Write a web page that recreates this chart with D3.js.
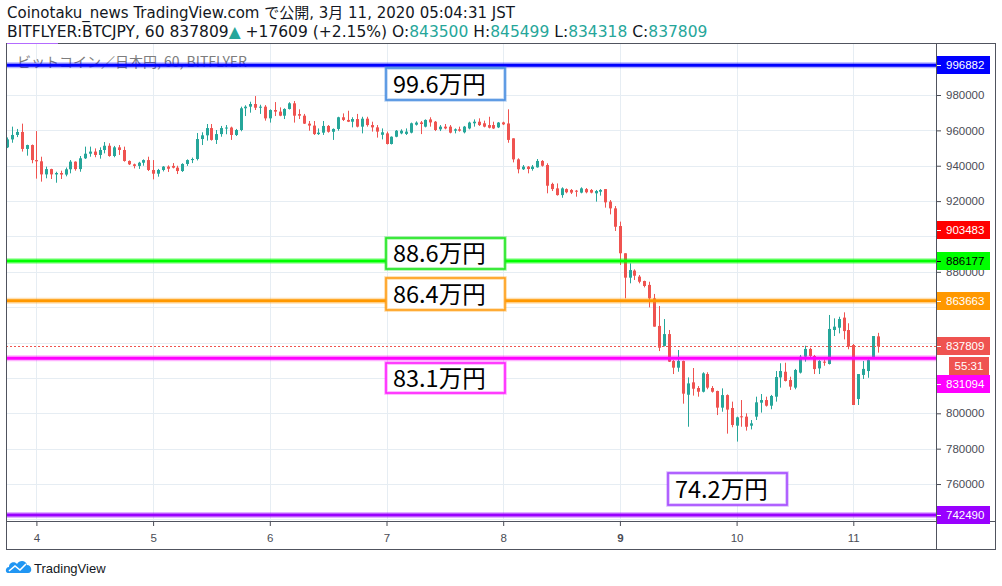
<!DOCTYPE html>
<html>
<head>
<meta charset="utf-8">
<script src="https://cdn.jsdelivr.net/npm/d3@7/dist/d3.min.js"></script>
<style>
  html, body { margin: 0; padding: 0; background: #fff; }
  svg { display: block; }
</style>
</head>
<body>
<div id="chart"></div>
<script>
// BTC/JPY 1時間足 (3/3 18:00 〜 3/11 05:00 JST)
var startTime = new Date(2020, 2, 3, 18, 0);

var opens = [950400,954900,957400,959100,949500,951700,943200,942500,935100,938100,
935100,935900,935000,938000,942300,938100,944200,946800,948000,946100,
948900,951300,945500,950400,948900,942700,940800,939900,941700,943200,
937600,935500,937600,939500,939900,938900,937000,941000,943200,943800,
955100,957200,961300,954600,957900,961300,961600,957400,960200,972500,
973400,974900,972800,973400,966800,971500,970600,968300,972100,975300,
969200,968300,963800,962700,957900,958700,962500,959200,960800,967400,
965900,964900,966400,962100,966600,963000,961700,957500,958300,952300,
956400,958300,958000,958700,963200,964500,962100,966200,964900,960600,
962100,962100,959800,960600,958900,961100,964000,964900,964000,963000,
963000,961700,964500,963900,955500,943600,938000,939500,938150,939100,
942700,940400,929700,927200,923400,926800,926300,925900,924800,926800,
926300,924400,925300,926800,919700,915900,905900,890500,876700,880700,
877300,874800,872600,865000,849400,838100,844800,829600,825800,829600,
810500,817500,814300,812200,822200,814300,812600,803200,810300,803000,
793000,798300,798100,793000,798100,806000,807500,804300,809400,820300,
823500,818800,814500,823000,832000,836400,832400,825400,829200,827900,
847100,848400,854100,847100,838600,808100,821700,823900,831700,843500];

var highs = [956000,962100,960800,963800,951900,952000,959600,945100,939500,938300,
936600,937200,939000,943200,942500,945500,950800,950800,949800,950400,
953400,952700,951200,951700,950800,943000,941200,942200,943600,945100,
943200,938200,939800,940200,941500,940000,941400,943600,944600,958500,
958900,963600,963600,960200,962500,963000,962100,960800,973400,974200,
976200,979400,974500,974300,971900,976000,973000,972500,975900,976600,
971900,969300,965300,965300,961100,965300,963000,961100,967700,969600,
971100,967400,969300,967700,967700,964900,963000,961100,959300,956600,
960200,960600,961100,964400,965100,965300,966200,967400,965300,963000,
963600,963000,961100,962100,962500,964900,966200,966800,965500,967700,
964900,964700,964900,971900,955500,944200,940400,939850,940400,943800,
943200,941400,930400,930000,927800,927200,926800,926300,927800,927400,
926800,926300,926800,926800,920600,917200,908400,890500,884800,881400,
878200,875000,874400,867500,860700,853300,847100,830100,835800,829800,
820300,825600,815400,823200,823200,815400,812800,814100,810700,806600,
798100,807500,800000,796200,809400,810900,809400,810400,823900,828300,
828600,820700,825100,833000,838200,837100,833000,830100,830500,855600,
853700,854600,857100,850900,839200,822200,829600,830500,843700,845499];

var lows = [950000,953000,956200,948000,945700,941400,932700,931000,932900,932500,
930400,932500,934000,935700,937200,936600,943800,945100,944800,944000,
947000,945100,944800,946100,942300,940400,938500,938200,940000,937000,
932300,933800,936800,936500,938500,935300,936500,939900,941500,943000,
951700,954200,954200,952300,956400,957800,954600,956800,959500,968100,
970000,971500,969300,965500,964400,968100,968000,966400,971800,964400,
966400,963600,959800,957400,957400,957400,958700,954600,959800,965300,
964700,961700,961700,958300,962100,959300,955900,954900,952000,952000,
956100,957800,957400,958300,962700,957900,961700,962100,959600,959600,
960600,958300,958300,959300,958300,960600,962100,962500,961700,961100,
960800,961300,963000,953000,941900,935700,937600,935700,937200,938900,
939500,924400,925700,923100,921900,924400,924000,922500,924400,924400,
924400,919700,923100,916300,912500,903100,883900,865000,873500,875400,
873500,871200,859900,849000,835200,837800,829000,822200,823500,805450,
792400,810000,809400,811800,813600,811700,799000,800900,788500,792100,
784000,792400,790200,790900,796200,800400,803800,802300,806600,814500,
818000,813200,813600,822500,829200,831600,822200,822200,826900,827600,
843700,845200,841800,836200,804700,804700,819400,820100,831600,834318];

var closes = [954900,957400,959100,949500,951700,943200,942500,935100,938100,935100,
935900,935000,938000,942300,938100,944200,946800,948000,946100,948900,
951300,945500,950400,948900,942700,940800,939900,941700,943200,937600,
935500,937600,939500,938300,938900,937000,941000,943200,943800,955100,
957200,961300,954600,957900,961300,961600,957400,960200,972500,973400,
974900,972800,973400,966800,971500,970600,968300,972100,975300,968300,
968300,963800,962700,957900,958700,962500,959200,960800,967400,965900,
964900,966400,962100,966600,963000,961700,959300,958900,952300,956400,
959800,959800,959300,964000,964400,963600,965900,964500,960200,962100,
961100,958700,960600,959800,962100,964400,964900,963000,962100,961500,
961100,964400,963400,954600,943600,938000,939500,938150,939500,942700,
940000,928700,926800,923400,927200,925000,924800,925300,927200,925000,
924800,925700,926300,919300,915900,905500,890500,876700,881000,877800,
874400,872000,865000,849000,837100,844800,829200,825800,829600,811100,
816900,813900,812200,822600,814500,812200,803200,810300,802100,793400,
797700,798000,792400,794300,806200,807500,804300,809800,820500,823900,
818300,815100,824500,832000,836400,832400,825000,829600,828600,847700,
849000,853300,846500,837700,804700,822200,825100,830100,843700,837809];

// 水平線 (価格, 色)
var levelPrices = [996882, 886177, 863663, 831094, 742490];
var levelColors = ["#0000ff", "#00ff00", "#ff9800", "#ff00ff", "#9900ff"];
var levelTextColors = ["#fff", "#000", "#fff", "#fff", "#fff"];
var levelNotes = ["99.6万円", "88.6万円", "86.4万円", "83.1万円", "74.2万円"];
var noteColors = ["#4a8fe0", "#22e622", "#ff9f1a", "#ff22ff", "#a64dff"];

var yTicks = [740000, 760000, 780000, 800000, 820000, 840000, 860000, 880000, 900000, 920000, 940000, 960000, 980000];
var dayTicks = [4, 5, 6, 7, 8, 9, 10, 11];

var alertPrice = 903483;
var lastPrice = 837809;
var countdown = "55:31";

var W = 1002, H = 586;
var plot = {left: 6, top: 43, right: 936, bottom: 521};
var upColor = "#26a69a", downColor = "#ef5350";
var gridColor = "#e6edf3", frameColor = "#50535e", axisText = "#4a4c55";
var axisFont = "'Liberation Sans', Arial, sans-serif";

var svg = d3.select("#chart").append("svg").attr("width", W).attr("height", H);

var x = d3.scaleTime()
    .domain([new Date(2020, 2, 4), new Date(2020, 2, 11)])
    .range([36.4, 853.3]);
var y = d3.scaleLinear()
    .domain([800000, 980000])
    .range([413.3, 95]);

var candles = closes.map(function(c, i) {
    return {t: d3.timeHour.offset(startTime, i), o: opens[i], h: highs[i], l: lows[i], c: c};
});

svg.append("defs").append("clipPath").attr("id", "plotclip")
    .append("rect").attr("x", plot.left).attr("y", plot.top)
    .attr("width", plot.right - plot.left).attr("height", plot.bottom - plot.top);

// グリッド
var grid = svg.append("g");
grid.selectAll("line.h").data(yTicks).enter().append("line")
    .attr("x1", plot.left).attr("x2", plot.right)
    .attr("y1", function(d) { return Math.round(y(d)) + 0.5; })
    .attr("y2", function(d) { return Math.round(y(d)) + 0.5; })
    .attr("stroke", gridColor);
grid.selectAll("line.v").data(dayTicks).enter().append("line")
    .attr("y1", plot.top).attr("y2", plot.bottom)
    .attr("x1", function(d) { return Math.round(x(new Date(2020, 2, d))) + 0.5; })
    .attr("x2", function(d) { return Math.round(x(new Date(2020, 2, d))) + 0.5; })
    .attr("stroke", gridColor);

// ウォーターマーク
svg.append("text").attr("x", 17).attr("y", 67)
    .style("font-family", "'Noto Sans CJK JP', 'Noto Sans', sans-serif")
    .style("font-size", "14px").attr("fill", "#7d7d7d")
    .text("ビットコイン／日本円, 60, BITFLYER");

var main = svg.append("g").attr("clip-path", "url(#plotclip)");

// ローソク足
var cg = main.selectAll("g.candle").data(candles).enter().append("g");
cg.append("line")
    .attr("x1", function(d) { return Math.round(x(d.t)) + 0.5; })
    .attr("x2", function(d) { return Math.round(x(d.t)) + 0.5; })
    .attr("y1", function(d) { return y(d.h); })
    .attr("y2", function(d) { return y(d.l); })
    .attr("stroke", function(d) { return d.c >= d.o ? upColor : downColor; });
cg.append("rect")
    .attr("x", function(d) { return Math.round(x(d.t)) - 1; })
    .attr("width", 3)
    .attr("y", function(d) { return y(Math.max(d.o, d.c)); })
    .attr("height", function(d) { return Math.max(1, Math.abs(y(d.o) - y(d.c))); })
    .attr("fill", function(d) { return d.c >= d.o ? upColor : downColor; });

// 現在値の点線
main.append("line")
    .attr("x1", plot.left).attr("x2", plot.right)
    .attr("y1", Math.round(y(lastPrice)) + 0.5).attr("y2", Math.round(y(lastPrice)) + 0.5)
    .attr("stroke", downColor).attr("stroke-dasharray", "2,2");

// 水平線
levelPrices.forEach(function(p, i) {
    main.append("line").attr("x1", plot.left).attr("x2", plot.right)
        .attr("y1", y(p)).attr("y2", y(p))
        .attr("stroke", levelColors[i]).attr("stroke-opacity", 0.3).attr("stroke-width", 6);
    main.append("line").attr("x1", plot.left).attr("x2", plot.right)
        .attr("y1", y(p)).attr("y2", y(p))
        .attr("stroke", levelColors[i]).attr("stroke-width", 3);
});

// メモ枠
var noteBoxes = [
    {x: 386, y: 68, w: 119, h: 32},
    {x: 386, y: 238, w: 119, h: 31},
    {x: 386, y: 278, w: 119, h: 32},
    {x: 386, y: 363, w: 119, h: 30},
    {x: 668, y: 473, w: 119, h: 32}
];
noteBoxes.forEach(function(b, i) {
    var g = svg.append("g");
    g.append("rect").attr("x", b.x).attr("y", b.y).attr("width", b.w).attr("height", b.h)
        .attr("fill", "#fff").attr("stroke", noteColors[i]).attr("stroke-opacity", 0.4).attr("stroke-width", 3.5);
    g.append("rect").attr("x", b.x).attr("y", b.y).attr("width", b.w).attr("height", b.h)
        .attr("fill", "none").attr("stroke", noteColors[i]).attr("stroke-width", 1.6);
    g.append("text").attr("x", b.x + 7).attr("y", b.y + b.h / 2 + 8.5)
        .style("font-family", "'Noto Sans CJK JP', sans-serif")
        .style("font-size", "23.5px").attr("fill", "#000")
        .text(levelNotes[i]);
});

// 枠線
svg.append("rect").attr("x", plot.left + 0.5).attr("y", plot.top + 0.5)
    .attr("width", 995 - plot.left).attr("height", 549 - plot.top)
    .attr("fill", "none").attr("stroke", frameColor);
svg.append("line").attr("x1", plot.right + 0.5).attr("x2", plot.right + 0.5)
    .attr("y1", plot.top).attr("y2", 549).attr("stroke", frameColor);
svg.append("line").attr("x1", plot.left).attr("x2", 995)
    .attr("y1", plot.bottom + 0.5).attr("y2", plot.bottom + 0.5).attr("stroke", frameColor);
svg.append("line").attr("x1", plot.left + 1).attr("x2", 58)
    .attr("y1", plot.top + 0.5).attr("y2", plot.top + 0.5).attr("stroke", "#b36bff");

// 価格タグの位置 (重なる場合はずらす)
var tags = levelPrices.map(function(p, i) {
    return {p: p, bg: levelColors[i], fg: levelTextColors[i], cy: Math.round(y(p))};
});
tags.push({p: alertPrice, bg: "#ff0000", fg: "#fff", cy: Math.round(y(alertPrice))});
tags.push({p: lastPrice, bg: downColor, fg: "#fff", cy: Math.round(y(lastPrice))});
var lastCy = Math.round(y(lastPrice));
// 現在値タグとカウントダウンの下に押し出す
tags.forEach(function(t) {
    if (t.p !== lastPrice && Math.abs(t.cy - lastCy) < 40 && t.cy > lastCy) t.cy = lastCy + 38;
});

// 価格軸 (タグに隠れる目盛は出さない)
var shownTicks = yTicks.filter(function(v) {
    return tags.every(function(t) { return Math.abs(y(v) - t.cy) > 9; });
});
var yAxis = d3.axisRight(y).tickValues(shownTicks).tickSize(4).tickPadding(5).tickFormat(d3.format("d"));
var ya = svg.append("g").attr("transform", "translate(" + (plot.right + 1) + ",0)").call(yAxis);
ya.select(".domain").remove();
ya.selectAll("line").attr("stroke", axisText);
ya.selectAll("text").attr("fill", axisText)
    .style("font-family", axisFont).style("font-size", "11.5px");

// 時間軸
var xAxis = d3.axisBottom(x)
    .tickValues(dayTicks.map(function(d) { return new Date(2020, 2, d); }))
    .tickSize(4).tickPadding(8).tickFormat(d3.timeFormat("%-d"));
var xa = svg.append("g").attr("transform", "translate(0," + (plot.bottom + 1) + ")").call(xAxis);
xa.select(".domain").remove();
xa.selectAll("line").attr("stroke", axisText);
xa.selectAll("text").attr("fill", axisText)
    .style("font-family", axisFont).style("font-size", "11.5px")
    .style("font-weight", function(d) { return d.getDate() === 9 ? "bold" : "normal"; });

// 価格タグ
tags.forEach(function(t) {
    var g = svg.append("g");
    g.append("rect").attr("x", plot.right + 1).attr("y", t.cy - 9)
        .attr("width", 53).attr("height", 18).attr("fill", t.bg);
    g.append("line").attr("x1", plot.right + 1).attr("x2", plot.right + 5)
        .attr("y1", t.cy + 0.5).attr("y2", t.cy + 0.5).attr("stroke", t.fg);
    g.append("text").attr("x", plot.right + 10).attr("y", t.cy + 4)
        .style("font-family", axisFont).style("font-size", "11.5px")
        .attr("fill", t.fg).text(d3.format("d")(t.p));
});
svg.append("rect").attr("x", 949).attr("y", lastCy + 11).attr("width", 40).attr("height", 18).attr("fill", downColor);
svg.append("text").attr("x", 969).attr("y", lastCy + 24).attr("text-anchor", "middle")
    .style("font-family", axisFont).style("font-size", "11.5px")
    .attr("fill", "#fff").text(countdown);

// ヘッダー
var hf = "'DejaVu Sans', 'Noto Sans CJK JP', sans-serif";
svg.append("text").attr("x", 7).attr("y", 18)
    .style("font-family", hf).style("font-size", "15px").attr("fill", "#131722")
    .text("Coinotaku_news TradingView.com で公開, 3月 11, 2020 05:04:31 JST");
var last = candles[candles.length - 1];
var l2 = svg.append("text").attr("x", 7).attr("y", 37)
    .style("font-family", hf).style("font-size", "15.5px").attr("fill", "#131722");
l2.append("tspan").text("BITFLYER:BTCJPY, 60 " + last.c);
l2.append("tspan").attr("fill", upColor).text("▲");
l2.append("tspan").text(" +17609 (+2.15%) O:");
l2.append("tspan").attr("fill", upColor).text(last.o);
l2.append("tspan").text(" H:");
l2.append("tspan").attr("fill", upColor).text(last.h);
l2.append("tspan").text(" L:");
l2.append("tspan").attr("fill", upColor).text(last.l);
l2.append("tspan").text(" C:");
l2.append("tspan").attr("fill", upColor).text(last.c);

// ロゴ
var logo = svg.append("g").attr("transform", "translate(6,559)");
logo.append("path")
    .attr("d", "M2,14 C-1,14 -1,8 3,8 C3,3 9,2 11,5 C13,1 20,1 21,6 C26,6 27,14 22,14 Z")
    .attr("fill", "#2196f3");
logo.append("path").attr("d", "M3,12 L9,7 L14,11 L20,5")
    .attr("fill", "none").attr("stroke", "#fff").attr("stroke-width", 1.6);
svg.append("text").attr("x", 34).attr("y", 573)
    .style("font-family", axisFont).style("font-size", "13px")
    .attr("fill", "#131722").text("TradingView");
</script>
</body>
</html>
